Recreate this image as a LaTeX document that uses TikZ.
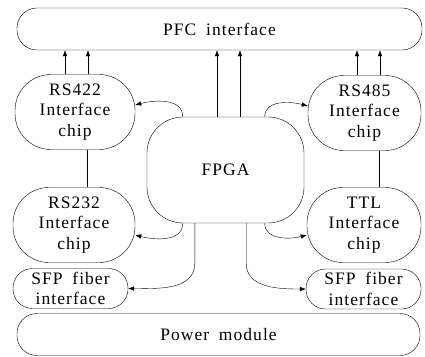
\documentclass[tikz,border=0pt]{standalone}
\usepackage{fontspec}
\setmainfont{Liberation Serif}[LetterSpace=6,WordSpace=1.8]
\usetikzlibrary{arrows.meta,calc,positioning}
\tikzset{
    -{Latex[length=6pt,width=4.5pt]},line width=1.1pt,
    bus/.style ={rectangle, draw, rounded corners=20pt, minimum width=405pt, minimum height=42pt, inner sep=0pt},
    chip/.style ={rectangle, draw, rounded corners=36pt, align=center, minimum width=120pt, minimum height=75pt, inner sep=0pt},
    core/.style ={rectangle, draw, rounded corners=36pt, minimum width=157pt, minimum height=106pt, inner sep=0pt},
    fiber/.style ={rectangle, draw, rounded corners=19.5pt, align=center, minimum width=115pt, minimum height=40pt, inner sep=0pt}
}
\begin{document}
\begin{tikzpicture}[x=1pt,y=-1pt,font=\fontsize{17.5}{20.5}\selectfont]
    \useasboundingbox (0,0) rectangle (425,356);
    \node[bus] (pfc) at (219.5,29) {PFC interface};
    \node[chip] (rs422) at (75,112) {RS422\\Interface\\chip};
    \node[chip, minimum width=113pt] (rs485) at (364.5,113) {RS485\\Interface\\chip};
    \node[core] (fpga) at (225.5,170) {FPGA};
    \node[chip, minimum width=122pt] (rs232) at (74,225) {RS232\\Interface\\chip};
    \node[chip, minimum width=114pt] (ttl) at (364,225) {TTL\\Interface\\chip};
    \node[fiber] (sfpl) at (70.5,288.5) {SFP fiber\\interface};
    \node[fiber] (sfpr) at (363.5,289) {SFP fiber\\interface};
    \node[bus, minimum width=403pt] (power) at (218.5,334.5) {Power module};

    % buses up to the PFC interface
    \foreach \n/\dx in {rs422/-10pt,rs422/13pt,fpga/-8.5pt,fpga/14.5pt,rs485/-7.5pt,rs485/15.5pt}
        \draw ([xshift=\dx]\n.north) -- ([xshift=\dx]\n.north |- pfc.south);

    \draw[-] ([xshift=12pt]rs422.south) -- ([xshift=12pt]rs422.south |- rs232.north);
    \draw[-] ([xshift=14.5pt]rs485.south) -- ([xshift=14.5pt]rs485.south |- ttl.north);

    % FPGA to the interface chips
    \draw ([xshift=36pt]fpga.north west) to[out=90,in=15] ([yshift=7pt]rs422.east);
    \draw ([xshift=-39.5pt]fpga.north east) to[out=90,in=165] ([yshift=7pt]rs485.west);
    \draw ([xshift=36pt]fpga.south west) to[out=-90,in=-15] ([yshift=-10pt]rs232.east);
    \draw ([xshift=-39.5pt]fpga.south east) to[out=-90,in=195] ([yshift=-10pt]ttl.west);

    % FPGA to the fiber interfaces
    \draw ([xshift=48pt]fpga.south west) -- ++(0,40) to[out=-90,in=0] (sfpl.east);
    \draw ([xshift=-58pt]fpga.south east) -- ++(0,40) to[out=-90,in=180] (sfpr.west);
\end{tikzpicture}
\end{document}
